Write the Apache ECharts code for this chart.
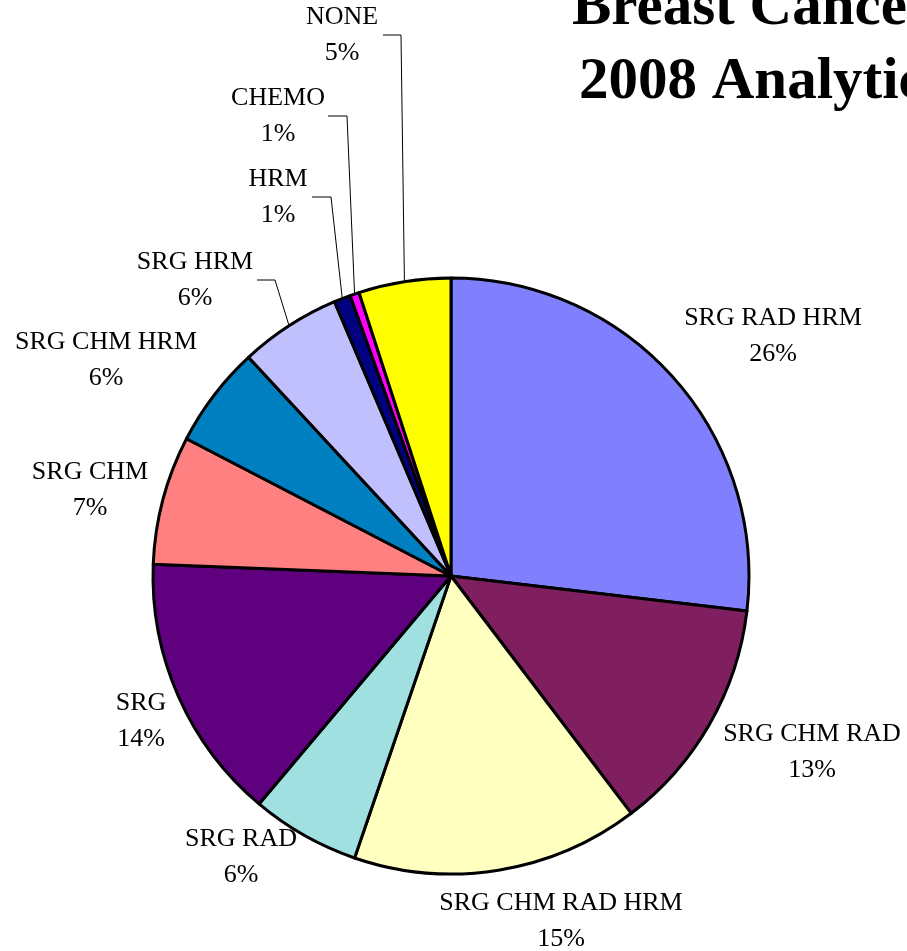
<!DOCTYPE html>
<html>
<head>
<meta charset="utf-8">
<title>Breast Cancer 2008 Analytic Cases</title>
<script src="https://cdn.jsdelivr.net/npm/echarts@6/dist/echarts.min.js"></script>
<style>
  html, body { margin: 0; padding: 0; background: #fff; }
  #main { width: 907px; height: 951px; }
</style>
</head>
<body>
<div id="main"></div>
<script>
// categories, clockwise from 12 o'clock
var categories = ['SRG RAD HRM', 'SRG CHM RAD', 'SRG CHM RAD HRM', 'SRG RAD', 'SRG',
  'SRG CHM', 'SRG CHM HRM', 'SRG HRM', 'HRM', 'CHEMO', 'NONE'];
// slice sizes (percent of cases)
var shares = [26.9, 12.8, 15.6, 5.9, 14.5, 7.0, 5.5, 5.5, 0.9, 0.5, 5.0];
// percentages as printed on the chart
var printedPct = [26, 13, 15, 6, 14, 7, 6, 6, 1, 1, 5];
var colors = ['#8080FF', '#7F1F5F', '#FFFFC0', '#A0E0E0', '#5F007F',
  '#FF8080', '#0080C0', '#C0C0FF', '#000080', '#FF00FF', '#FFFF00'];

// label block centres (layout)
var labelPos = [
  [773, 336], [812, 752], [561, 921], [241, 857], [141, 721],
  [90, 490], [106, 360], [195, 280], [278, 197], [278, 116], [342, 35]
];
// leader lines: [start x at label, bend x], only for the small top slices
var leaders = { 7: [257, 275], 8: [312, 331], 9: [328, 347], 10: [383, 401] };

var cx = 451, cy = 576, R = 298;

var chart = echarts.init(document.getElementById('main'));

function edgePoint(i) { // point on the rim at the slice's middle angle
  var total = 0, before = 0;
  for (var k = 0; k < shares.length; k++) {
    total += shares[k];
    if (k < i) before += shares[k];
  }
  var a = (before + shares[i] / 2) / total * Math.PI * 2;
  return [cx + R * Math.sin(a), cy - R * Math.cos(a)];
}

var graphics = [
  { type: 'text', x: 572, y: 9, style: { text: 'Breast Cancer Treatment', font: 'bold 59px "Liberation Serif"', fill: '#000', verticalAlign: 'middle' } },
  { type: 'text', x: 579, y: 83, style: { text: '2008 Analytic Cases', font: 'bold 59px "Liberation Serif"', fill: '#000', verticalAlign: 'middle' } }
];
for (var key in leaders) {
  var idx = +key;
  var p = edgePoint(idx);
  var ly = labelPos[idx][1];
  graphics.push({
    type: 'polyline',
    shape: { points: [[leaders[key][0], ly], [leaders[key][1], ly], p] },
    style: { stroke: '#000', lineWidth: 1, fill: null },
    z: 10
  });
}

var pieData = [];
for (var i = 0; i < categories.length; i++) {
  pieData.push({ name: categories[i], value: shares[i], itemStyle: { color: colors[i] } });
}

var option = {
  animation: false,
  backgroundColor: '#fff',
  graphic: graphics,
  series: [{
    type: 'pie',
    center: [cx, cy],
    radius: R,
    startAngle: 90,
    clockwise: true,
    avoidLabelOverlap: false,
    itemStyle: { borderColor: '#000', borderWidth: 3 },
    label: {
      show: true,
      position: 'outside',
      fontFamily: 'Liberation Serif',
      fontSize: 26,
      lineHeight: 36,
      color: '#000',
      align: 'center',
      formatter: function (p) { return p.name + '\n' + printedPct[p.dataIndex] + '%'; }
    },
    labelLine: { show: false },
    labelLayout: function (params) {
      var pos = labelPos[params.dataIndex];
      return { x: pos[0], y: pos[1], align: 'center', verticalAlign: 'middle', hideOverlap: false };
    },
    emphasis: { disabled: true },
    data: pieData
  }]
};
chart.setOption(option);
</script>
</body>
</html>
